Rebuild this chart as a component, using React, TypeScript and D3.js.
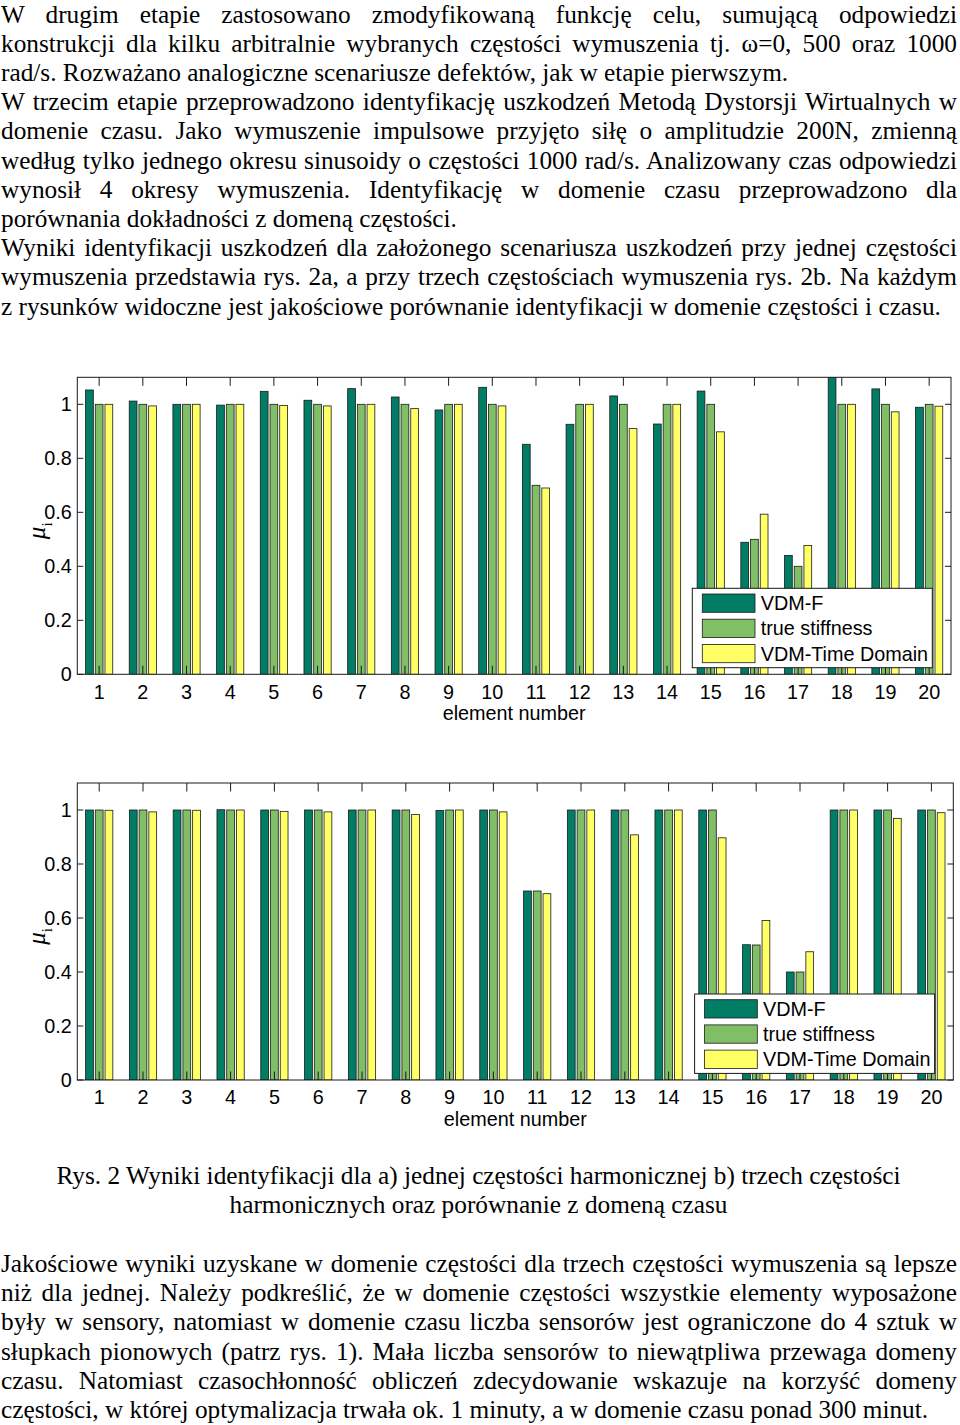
import React, { useLayoutEffect, useRef } from "react";
import * as d3 from "d3";

// ---------- data ----------
const elements = [1, 2, 3, 4, 5, 6, 7, 8, 9, 10, 11, 12, 13, 14, 15, 16, 17, 18, 19, 20];
const seriesNames = ["VDM-F", "true stiffness", "VDM-Time Domain"];
const seriesColors = ["#007D64", "#80BF66", "#FFFF66"];
const yTicks = [0, 0.2, 0.4, 0.6, 0.8, 1];
const yTickLabels = ["0", "0.2", "0.4", "0.6", "0.8", "1"];

// chart a) one harmonic frequency
const vdmF_a = [1.053, 1.012, 1.0, 0.997, 1.048, 1.015, 1.058, 1.027, 0.979, 1.063, 0.852, 0.926, 1.031, 0.927, 1.049, 0.489, 0.44, 1.13, 1.057, 0.989];
const true_a = [1, 1, 1, 1, 1, 1, 1, 1, 1, 1, 0.7, 1, 1, 1, 1, 0.5, 0.4, 1, 1, 1];
const time_a = [1.0, 0.994, 1.0, 1.0, 0.996, 0.994, 1.0, 0.984, 1.0, 0.994, 0.69, 1.0, 0.91, 1.0, 0.898, 0.593, 0.477, 1.0, 0.972, 0.993];

// chart b) three harmonic frequencies
const vdmF_b = [1, 1, 1, 1.001, 1, 1, 1, 1, 0.998, 1, 0.7, 1, 1, 1, 1, 0.501, 0.4, 1, 1, 1];
const true_b = [1, 1, 1, 1, 1, 1, 1, 1, 1, 1, 0.7, 1, 1, 1, 1, 0.5, 0.4, 1, 1, 1];
const time_b = [0.999, 0.993, 0.999, 1.0, 0.995, 0.993, 1.0, 0.983, 1.0, 0.993, 0.69, 1.0, 0.908, 1.0, 0.897, 0.591, 0.475, 1.0, 0.969, 0.99];

const topParagraphs = [
  [
    "W drugim etapie zastosowano zmodyfikowaną funkcję celu, sumującą odpowiedzi",
    "konstrukcji dla kilku arbitralnie wybranych częstości wymuszenia tj. ω=0, 500 oraz 1000",
    "rad/s. Rozważano analogiczne scenariusze defektów, jak w etapie pierwszym.",
  ],
  [
    "W trzecim etapie przeprowadzono identyfikację uszkodzeń Metodą Dystorsji Wirtualnych w",
    "domenie czasu. Jako wymuszenie impulsowe przyjęto siłę o amplitudzie 200N, zmienną",
    "według tylko jednego okresu sinusoidy o częstości 1000 rad/s. Analizowany czas odpowiedzi",
    "wynosił 4 okresy wymuszenia. Identyfikację w domenie czasu przeprowadzono dla",
    "porównania dokładności z domeną częstości.",
  ],
  [
    "Wyniki identyfikacji uszkodzeń dla założonego scenariusza uszkodzeń przy jednej częstości",
    "wymuszenia przedstawia rys. 2a, a przy trzech częstościach wymuszenia rys. 2b. Na każdym",
    "z rysunków widoczne jest jakościowe porównanie identyfikacji w domenie częstości i czasu.",
  ],
];

const captionLines = [
  "Rys. 2 Wyniki identyfikacji dla a) jednej częstości harmonicznej b) trzech częstości",
  "harmonicznych oraz porównanie z domeną czasu",
];

const bottomParagraph = [
  "Jakościowe wyniki uzyskane w domenie częstości dla trzech częstości wymuszenia są lepsze",
  "niż dla jednej. Należy podkreślić, że w domenie częstości wszystkie elementy wyposażone",
  "były w sensory, natomiast w domenie czasu liczba sensorów jest ograniczone do 4 sztuk w",
  "słupkach pionowych (patrz rys. 1). Mała liczba sensorów to niewątpliwa przewaga domeny",
  "czasu. Natomiast czasochłonność obliczeń zdecydowanie wskazuje na korzyść domeny",
  "częstości, w której optymalizacja trwała ok. 1 minuty, a w domenie czasu ponad 300 minut.",
];

// ---------- layout ----------
const W = 960;
const H = 1425;
const TEXT_LEFT = 1;
const TEXT_RIGHT = 957;
const SERIF = "'Liberation Serif', 'Times New Roman', serif";
const SANS = "'Liberation Sans', Arial, Helvetica, sans-serif";
const BODY_SIZE = 25.3;
const LINE_H = 29.2;
const AX_FONT = 19.8;

type ChartProps = {
  id: string;
  left: number;
  right: number;
  top: number;
  bottom: number;
  series: number[][];
};

function BarChart({ id, left, right, top, bottom, series }: ChartProps) {
  const x = d3.scaleLinear().domain([0.5, 20.5]).range([left, right]);
  const y = d3.scaleLinear().domain([0, 1.1]).range([bottom, top]);
  const nS = series.length;
  const groupW = Math.min(0.8, nS / (nS + 1.5));
  const step = groupW / nS;
  const barW = step * 0.8;
  const xTickLen = 8.5;
  const yTickLen = 6;
  const axisColor = "#1a1a1a";

  const legW = 240;
  const legH = 79.4;
  const legX = right - 18.7 - legW;
  const legY = bottom - 6.6 - legH;

  return (
    <g>
      <defs>
        <clipPath id={`clip-${id}`}>
          <rect x={left} y={top} width={right - left} height={bottom - top} />
        </clipPath>
      </defs>
      <rect x={left} y={top} width={right - left} height={bottom - top} fill="#fff" />
      <g clipPath={`url(#clip-${id})`}>
        {series.map((vals, s) =>
          vals.map((v, i) => {
            const cx = x(elements[i]) + (s - (nS - 1) / 2) * step * (x(1) - x(0));
            const bw = barW * (x(1) - x(0));
            return (
              <rect
                key={`${s}-${i}`}
                x={cx - bw / 2}
                y={y(v)}
                width={bw}
                height={y(0) - y(v)}
                fill={seriesColors[s]}
                stroke="#1a1a1a"
                strokeWidth={0.8}
              />
            );
          })
        )}
      </g>
      {/* ticks */}
      {elements.map((e) => (
        <g key={`xt-${e}`}>
          <line x1={x(e)} x2={x(e)} y1={bottom} y2={bottom - xTickLen} stroke={axisColor} strokeWidth={1} />
          <line x1={x(e)} x2={x(e)} y1={top} y2={top + xTickLen} stroke={axisColor} strokeWidth={1} />
          <text x={x(e)} y={bottom + 24.2} textAnchor="middle" fontFamily={SANS} fontSize={AX_FONT} fill="#000">
            {e}
          </text>
        </g>
      ))}
      {yTicks.map((t, i) => (
        <g key={`yt-${t}`}>
          <line x1={left} x2={left + yTickLen} y1={y(t)} y2={y(t)} stroke={axisColor} strokeWidth={1} />
          <line x1={right} x2={right - yTickLen} y1={y(t)} y2={y(t)} stroke={axisColor} strokeWidth={1} />
          <text x={left - 5.6} y={y(t) + 7} textAnchor="end" fontFamily={SANS} fontSize={AX_FONT} fill="#000">
            {yTickLabels[i]}
          </text>
        </g>
      ))}
      <rect x={left} y={top} width={right - left} height={bottom - top} fill="none" stroke={axisColor} strokeWidth={1} />
      {/* axis labels */}
      <text x={(left + right) / 2} y={bottom + 45.7} textAnchor="middle" fontFamily={SANS} fontSize={AX_FONT} fill="#000">
        element number
      </text>
      <text
        transform={`translate(45, ${(top + bottom) / 2 + 5}) rotate(-90)`}
        textAnchor="middle"
        fontFamily={SERIF}
        fill="#000"
      >
        <tspan fontSize={25} fontStyle="italic">μ</tspan>
        <tspan fontSize={15} dy={7}>i</tspan>
      </text>
      {/* legend */}
      <rect x={legX} y={legY} width={legW} height={legH} fill="#fff" stroke={axisColor} strokeWidth={1} />
      {seriesNames.map((name, s) => {
        const sy = legY + 5.7 + s * 25.2;
        return (
          <g key={name}>
            <rect x={legX + 10} y={sy} width={52.7} height={18.3} fill={seriesColors[s]} stroke="#1a1a1a" strokeWidth={0.8} />
            <text x={legX + 68.4} y={sy + 9.2 + 7} fontFamily={SANS} fontSize={AX_FONT} fill="#000">
              {name}
            </text>
          </g>
        );
      })}
    </g>
  );
}

export default function App() {
  const ref = useRef<SVGSVGElement | null>(null);

  useLayoutEffect(() => {
    const justify = () => {
      if (!ref.current) return;
      d3.select(ref.current)
        .selectAll<SVGTextElement, unknown>("text.just")
        .each(function () {
          const el = this;
          el.style.wordSpacing = "0px";
          const w = el.getComputedTextLength();
          const spaces = (el.textContent || "").split(" ").length - 1;
          if (spaces > 0) {
            const extra = (TEXT_RIGHT - TEXT_LEFT - w) / spaces;
            el.style.wordSpacing = `${extra}px`;
          }
        });
    };
    justify();
    if ((document as any).fonts && (document as any).fonts.ready) {
      (document as any).fonts.ready.then(justify);
    }
  }, []);

  let lineIdx = 0;
  const topLines: React.ReactNode[] = [];
  topParagraphs.forEach((para, p) => {
    para.forEach((line, li) => {
      const yy = 22.5 + LINE_H * lineIdx;
      topLines.push(
        <text
          key={`p${p}-${li}`}
          className={li < para.length - 1 ? "just" : ""}
          x={TEXT_LEFT}
          y={yy}
          fontFamily={SERIF}
          fontSize={BODY_SIZE}
          fill="#000"
        >
          {line}
        </text>
      );
      lineIdx++;
    });
  });

  return (
    <svg
      ref={ref}
      width={W}
      height={H}
      viewBox={`0 0 ${W} ${H}`}
      style={{ position: "absolute", left: 0, top: 0, background: "#fff" }}
    >
      <rect x={0} y={0} width={W} height={H} fill="#fff" />
      {topLines}
      <BarChart id="a" left={77.3} right={951} top={377.3} bottom={674.3} series={[vdmF_a, true_a, time_a]} />
      <BarChart id="b" left={77.3} right={953.3} top={783} bottom={1080} series={[vdmF_b, true_b, time_b]} />
      {captionLines.map((line, i) => (
        <text key={`c${i}`} x={478.5} y={1184 + LINE_H * i} textAnchor="middle" fontFamily={SERIF} fontSize={BODY_SIZE} fill="#000">
          {line}
        </text>
      ))}
      {bottomParagraph.map((line, i) => (
        <text
          key={`b${i}`}
          className={i < bottomParagraph.length - 1 ? "just" : ""}
          x={TEXT_LEFT}
          y={1272 + LINE_H * i}
          fontFamily={SERIF}
          fontSize={BODY_SIZE}
          fill="#000"
        >
          {line}
        </text>
      ))}
    </svg>
  );
}
